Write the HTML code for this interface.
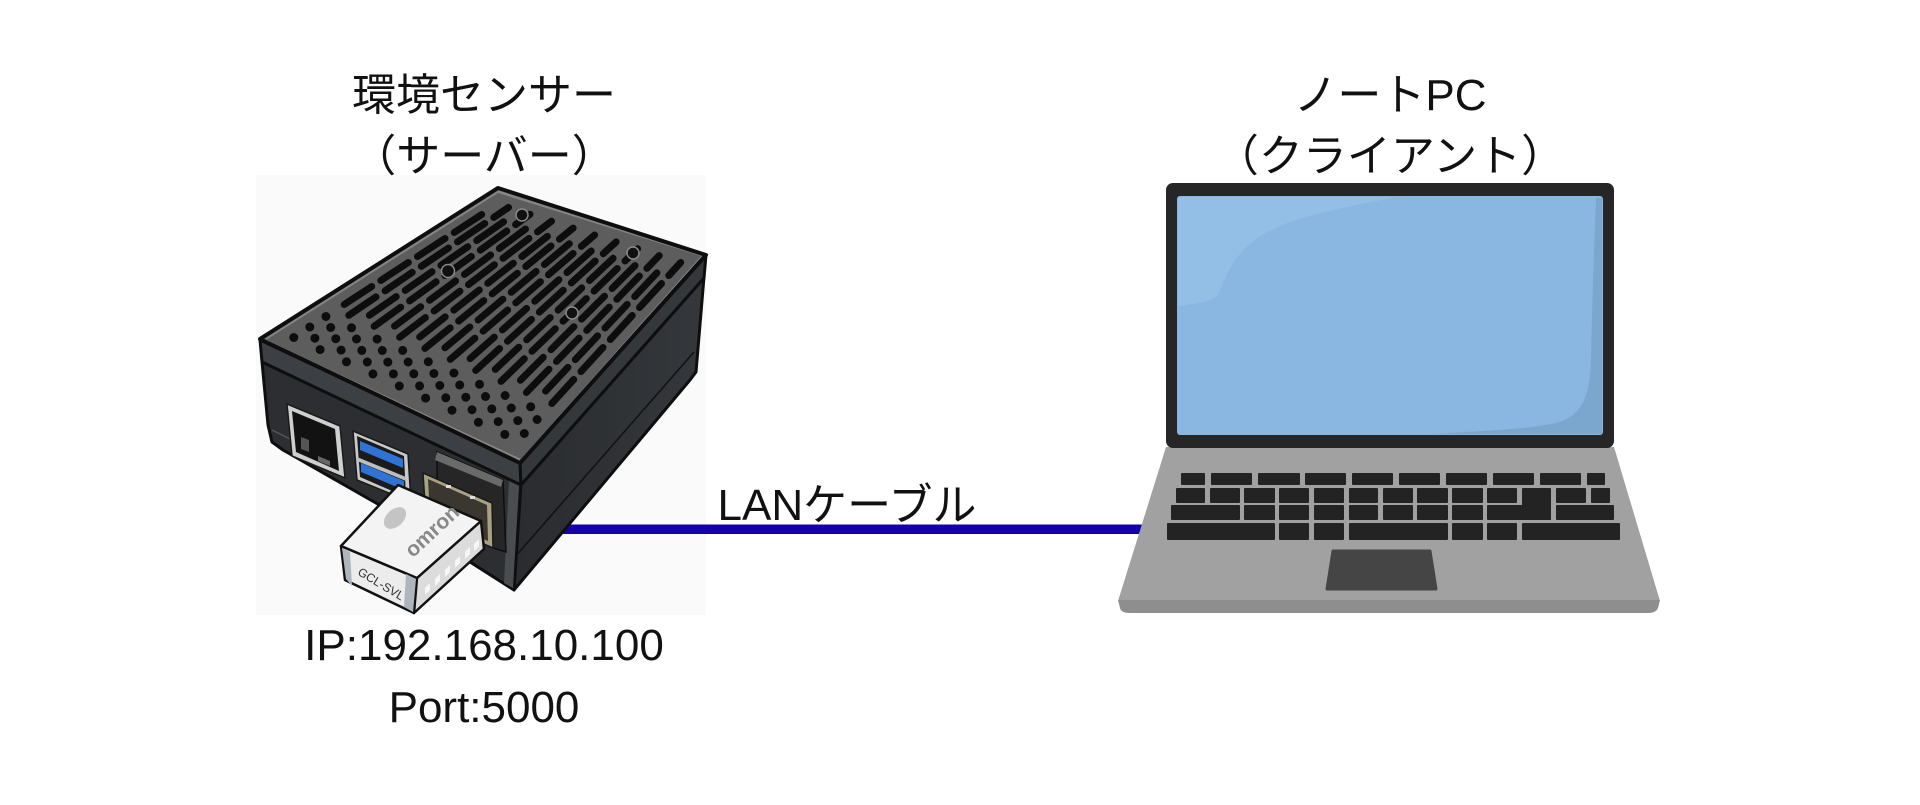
<!DOCTYPE html>
<html>
<head>
<meta charset="utf-8">
<style>
html,body{margin:0;padding:0;background:#fff;}
body{width:1920px;height:805px;overflow:hidden;}
svg{display:block;}
.t{font-family:"Liberation Sans","Noto Sans CJK JP",sans-serif;fill:#111;}
</style>
</head>
<body>
<svg width="1920" height="805" viewBox="0 0 1920 805">
<defs>
<clipPath id="topclip"><polygon points="266,340 498,193 701,256 521,459"/></clipPath>
<linearGradient id="rface" x1="0" y1="0" x2="1" y2="0">
<stop offset="0" stop-color="#2a2c2f"/><stop offset="1" stop-color="#34373b"/>
</linearGradient>
</defs>
<rect x="0" y="0" width="1920" height="805" fill="#fff"/>
<!-- server image background -->
<rect x="256" y="175" width="450" height="440" fill="#fafafa"/>

<!-- LAN cable -->
<rect x="560" y="524.5" width="588" height="9.5" fill="#1400aa"/>

<!-- server body -->
<g stroke="#0e0e0e" stroke-width="3" stroke-linejoin="round">
<polygon points="262,362 521,484 514,590 390,511 283,450 272,442 268,425" fill="#2c2e31"/>
<polygon points="521,484 704,277 696,372 690,380 514,590" fill="url(#rface)"/>
</g>
<line x1="694" y1="352" x2="514" y2="558" stroke="#111" stroke-width="1.5"/>
<line x1="272" y1="430" x2="300" y2="444" stroke="#555" stroke-width="1.5"/>
<polygon points="509,480 519,485 513,588 504,583" fill="#4a4d50"/>
<!-- lid rim -->
<g stroke="#0e0e0e" stroke-width="3" stroke-linejoin="round">
<polygon points="260,340 520,462 521,485 262,362" fill="#3c3f43"/>
<polygon points="520,462 706,255 704,278 521,485" fill="#35383b"/>
</g>
<!-- lid top face -->
<polygon points="260,339 498,188 706,255 520,463" fill="#858585" stroke="#0e0e0e" stroke-width="4" stroke-linejoin="round"/>
<polygon points="266,340 498,193 701,256 521,459" fill="#5d5d5d"/>
<g id="slots" clip-path="url(#topclip)" fill="#0d0d0d" stroke="#0d0d0d"></g>
<g fill="#111" stroke="#8a8a8a" stroke-width="1.5">
<circle cx="522" cy="215" r="6"/>
<circle cx="448" cy="271" r="6.5"/>
<circle cx="633" cy="253" r="6"/>
<circle cx="572" cy="313" r="6"/>
</g>

<!-- ethernet port -->
<polygon points="287,404 340,426 345,478 292,456" fill="#cfcfcf" stroke="#1a1a1a" stroke-width="1.5"/>
<polygon points="292,411 335,429 339,471 296,452" fill="#121212"/>
<polygon points="301,437 309,440 309,452 301,449" fill="#555"/>
<polygon points="318,456 330,461 330,466 318,461" fill="#666"/>
<!-- USB ports -->
<polygon points="353,431 408,454 411,502 357,480" fill="#c9c9c9" stroke="#1a1a1a" stroke-width="1.5"/>
<polygon points="357,436 404,456 406,497 360,477" fill="#1b1b1b"/>
<polygon points="360,441 403,459 403,468 360,450" fill="#2f73d4"/>
<polygon points="357,457 406,477 406,481 357,461" fill="#bdbdbd"/>
<polygon points="361,463 404,481 404,490 361,472" fill="#2f73d4"/>
<!-- sensor port housing -->
<polygon points="437,452 503,480 506,552 490,547 490,503 437,480" fill="#262626" stroke="#0e0e0e" stroke-width="1.5"/>
<polygon points="437,452 503,480 501,487 435,460" fill="#6a6a6a"/>
<polygon points="423,473 492,503 493,548 426,519" fill="#a8a283" stroke="#1a1a1a" stroke-width="1.5"/>
<polygon points="428,479 487,505 488,541 430,516" fill="#3a3630"/>
<rect x="446" y="485" width="5" height="3" fill="#ddd"/>
<rect x="470" y="496" width="5" height="3" fill="#ddd"/>

<!-- sensor -->
<g stroke="#111" stroke-width="2.5" stroke-linejoin="round">
<polygon points="341,546 417,578 414,613 345,580" fill="#ececec"/>
<polygon points="417,578 481,521 484,549 414,613" fill="#dcdcdc"/>
<polygon points="341,546 398,485 481,521 417,578" fill="#f3f3f3"/>
</g>
<polygon points="342,548 350,552 352,586 346,579" fill="#aeb6bd"/>
<polygon points="406,574 416,579 413,612 404,607" fill="#aeb6bd"/>
<g fill="#f7f7f7">
<polygon points="425,588 430,583 430,590 425,595"/>
<polygon points="435,579 440,574 440,581 435,586"/>
<polygon points="445,570 450,565 450,572 445,577"/>
<polygon points="455,561 460,556 460,563 455,568"/>
<polygon points="465,552 470,547 470,554 465,559"/>
<polygon points="474,544 479,539 479,546 474,551"/>
</g>
<ellipse cx="395" cy="518" rx="13" ry="8.5" transform="rotate(-43 395 518)" fill="#c4c4c4"/>
<text x="432" y="538" transform="rotate(-43 432 531)" text-anchor="middle" font-family="Liberation Sans, sans-serif" font-size="21" font-weight="bold" fill="#888">omron</text>
<text x="381" y="588" transform="rotate(31 381 584)" text-anchor="middle" font-family="Liberation Sans, sans-serif" font-size="12" fill="#333">GCL-SVL</text>

<!-- laptop -->
<polygon points="1166,447 1614,447 1660,601 1118,601" fill="#a1a1a1"/>
<path d="M1118,600 L1660,600 L1658,608 Q1656,613 1648,613 L1130,613 Q1121,613 1120,608 Z" fill="#8e8e8e"/>
<rect x="1166" y="183" width="448" height="265" rx="7" fill="#262626"/>
<rect x="1177" y="196" width="426" height="239" rx="3" fill="#8ab7e1"/>
<path d="M1178,197 L1396,197 C1330,210 1280,220 1255,240 C1232,258 1226,275 1218,295 C1212,302 1195,304 1178,306 Z" fill="#93bee5"/>
<path d="M1596,198 L1602,198 L1602,434 L1432,434 C1500,430 1545,428 1565,420 C1585,410 1590,390 1591,360 C1592,300 1594,250 1596,198 Z" fill="#7ba7cf"/>
<g fill="#232323">
<!-- row1 -->
<rect x="1181" y="473" width="24" height="12" rx="1"/>
<rect x="1211" y="473" width="41" height="12" rx="1"/>
<rect x="1258" y="473" width="42" height="12" rx="1"/>
<rect x="1305" y="473" width="41" height="12" rx="1"/>
<rect x="1352" y="473" width="41" height="12" rx="1"/>
<rect x="1399" y="473" width="41" height="12" rx="1"/>
<rect x="1446" y="473" width="41" height="12" rx="1"/>
<rect x="1493" y="473" width="41" height="12" rx="1"/>
<rect x="1540" y="473" width="41" height="12" rx="1"/>
<rect x="1587" y="473" width="18" height="12" rx="1"/>
<!-- row2 -->
<rect x="1176" y="488" width="29" height="15" rx="1"/>
<rect x="1210" y="488" width="30" height="15" rx="1"/>
<rect x="1244" y="488" width="31" height="15" rx="1"/>
<rect x="1279" y="488" width="30" height="15" rx="1"/>
<rect x="1314" y="488" width="30" height="15" rx="1"/>
<rect x="1349" y="488" width="29" height="15" rx="1"/>
<rect x="1383" y="488" width="30" height="15" rx="1"/>
<rect x="1417" y="488" width="31" height="15" rx="1"/>
<rect x="1452" y="488" width="31" height="15" rx="1"/>
<rect x="1487" y="488" width="30" height="15" rx="1"/>
<rect x="1522" y="488" width="29" height="32" rx="1"/>
<rect x="1556" y="488" width="30" height="15" rx="1"/>
<rect x="1591" y="488" width="19" height="15" rx="1"/>
<!-- row3 -->
<rect x="1171" y="505" width="69" height="15" rx="1"/>
<rect x="1244" y="505" width="31" height="15" rx="1"/>
<rect x="1279" y="505" width="30" height="15" rx="1"/>
<rect x="1314" y="505" width="30" height="15" rx="1"/>
<rect x="1349" y="505" width="29" height="15" rx="1"/>
<rect x="1383" y="505" width="30" height="15" rx="1"/>
<rect x="1417" y="505" width="31" height="15" rx="1"/>
<rect x="1452" y="505" width="31" height="15" rx="1"/>
<rect x="1487" y="505" width="64" height="15" rx="1"/>
<rect x="1556" y="505" width="58" height="15" rx="1"/>
<!-- row4 -->
<rect x="1167" y="523" width="108" height="17" rx="1"/>
<rect x="1279" y="523" width="30" height="17" rx="1"/>
<rect x="1314" y="523" width="30" height="17" rx="1"/>
<rect x="1349" y="523" width="99" height="17" rx="1"/>
<rect x="1452" y="523" width="31" height="17" rx="1"/>
<rect x="1487" y="523" width="30" height="17" rx="1"/>
<rect x="1522" y="523" width="98" height="17" rx="1"/>
</g>
<polygon points="1333,551 1430,551 1436,589 1327,589" fill="#454545" stroke="#454545" stroke-width="3" stroke-linejoin="round"/>

<!-- labels -->
<g class="t" font-size="44" text-anchor="middle">
<text x="484" y="110">環境センサー</text>
<text x="484" y="171">（サーバー）</text>
<text x="1390" y="110">ノートPC</text>
<text x="1390" y="171">（クライアント）</text>
<text x="484" y="660">IP:192.168.10.100</text>
<text x="484" y="722">Port:5000</text>
<text x="847" y="520">LANケーブル</text>
</g>
</svg>
<script>
(function(){
var L=[266,340],T=[498,193],R=[701,256],F=[521,459];
function P(s,t){
return [(1-s)*(1-t)*L[0]+s*(1-t)*T[0]+(1-s)*t*F[0]+s*t*R[0],
(1-s)*(1-t)*L[1]+s*(1-t)*T[1]+(1-s)*t*F[1]+s*t*R[1]];}
var g=document.getElementById('slots');
var h='';var N=18;
for(var i=0;i<N;i++){
var t=0.055+i*0.89/(N-1);
var s=0.06+(i%2)*0.035;
var nd=(i%2===0)?3:2;
for(var k=0;k<nd;k++){var p=P(s,t);h+='<circle cx="'+p[0].toFixed(1)+'" cy="'+p[1].toFixed(1)+'" r="4.5" stroke="none"/>';s+=0.07;}
s+=0.01;
while(s<0.95){
var e=Math.min(s+0.12,0.95);
if(e-s>0.03){var a=P(s,t),b=P(e,t);
h+='<line x1="'+a[0].toFixed(1)+'" y1="'+a[1].toFixed(1)+'" x2="'+b[0].toFixed(1)+'" y2="'+b[1].toFixed(1)+'" stroke-width="7" stroke-linecap="round"/>';}
s=e+0.04;}
}
g.innerHTML=h;
})();
</script>
</body>
</html>
